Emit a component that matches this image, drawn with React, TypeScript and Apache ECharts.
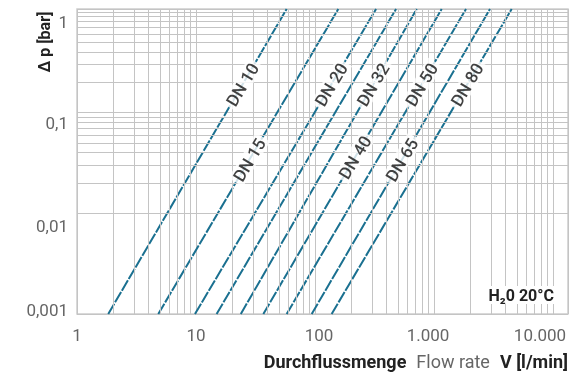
import React, { useEffect, useRef } from "react";
import * as echarts from "echarts";

// DN lines: flow [l/min] where each line meets the bottom (Δp = 0.001) and top (Δp = 1.07) of the plot
const lineNames = ["DN 10", "DN 15", "DN 20", "DN 25", "DN 32", "DN 40", "DN 50", "DN 65", "DN 80"];
const flowAtMin = [1.83, 4.82, 9.8, 14.9, 23.8, 36.8, 57.8, 93.8, 138];
const flowAtMax = [57.8, 157, 326, 480, 716, 1161, 1858, 2955, 4498];
const dpRange = [0.001, 1.07];
// Δp where each line's label sits (null = no label)
const labelDp: (number | null)[] = [0.19, 0.034, 0.19, null, 0.19, 0.036, 0.19, 0.034, 0.19];

const xTickValues = [1, 10, 100, 1000, 10000];
const xTickLabels = ["1", "10", "100", "1.000", "10.000"];
const xTickStyle = ["a", "a", "r", "l", "ll"];
const yTickValues = [0.001, 0.01, 0.1, 1];
const yTickLabels = ["0,001", "0,01", "0,1", "1"];
const yTickStyle = ["u", "dd", "d", "d"];

const minorMult = [2, 3, 4, 5, 6, 7, 8, 9];
const xMinorDecades = [1, 10, 100, 1000];
const yMinorDecades = [0.001, 0.01, 0.1];

const FONT = "Roboto, 'Noto Sans', sans-serif";

function findIdx(values: number[], v: number) {
  for (let i = 0; i < values.length; i++) {
    if (Math.abs(Math.log10(v) - Math.log10(values[i])) < 1e-6) return i;
  }
  return -1;
}

export default function App() {
  const ref = useRef<HTMLDivElement>(null);
  useEffect(() => {
    if (!ref.current) return;
    const chart = echarts.init(ref.current, null, { renderer: "svg" });

    const minorLines: any[] = [];
    xMinorDecades.forEach((d) => minorMult.forEach((m) => minorLines.push({ xAxis: d * m })));
    yMinorDecades.forEach((d) => minorMult.forEach((m) => minorLines.push({ yAxis: d * m })));

    const lineSeries = lineNames.map((name, i) => ({
      type: "line",
      name,
      z: 3,
      symbol: "none",
      silent: true,
      data: [
        [flowAtMin[i], dpRange[0]],
        [flowAtMax[i], dpRange[1]],
      ],
      lineStyle: { color: "#1a7090", width: 2, type: [12, 1.5] },
    }));

    const labelSeries: any[] = [];
    lineNames.forEach((name, i) => {
      const dp = labelDp[i];
      if (dp == null) return;
      const l0 = Math.log10(dpRange[0]);
      const l1 = Math.log10(dpRange[1]);
      const t = (Math.log10(dp) - l0) / (l1 - l0);
      const q0 = Math.log10(flowAtMin[i]);
      const q1 = Math.log10(flowAtMax[i]);
      const q = Math.pow(10, q0 + t * (q1 - q0));
      labelSeries.push({
        type: "scatter",
        z: 5,
        silent: true,
        symbolSize: 0.1,
        itemStyle: { color: "rgba(0,0,0,0)" },
        data: [[q, dp]],
        label: {
          show: true,
          position: "inside",
          rotate: 59,
          formatter: name,
          backgroundColor: "#ffffff",
          padding: [0, 3],
          fontSize: 17,
          fontWeight: 500,
          fontFamily: FONT,
          color: "#111",
        },
      });
    });

    chart.setOption({
      animation: false,
      grid: {
        left: 77,
        right: 5,
        top: 9,
        bottom: 67,
        show: true,
        borderColor: "#cdcdcd",
        borderWidth: 1.5,
        outerBoundsMode: "none",
      },
      xAxis: {
        type: "log",
        min: 1,
        max: 13370,
        logBase: 10,
        axisLine: { show: false },
        axisTick: { show: false },
        splitLine: { show: true, lineStyle: { color: "#c4c4c4", width: 1 } },
        axisLabel: {
          margin: 12,
          fontSize: 17,
          fontFamily: FONT,
          color: "#666",
          showMaxLabel: false,
          formatter: (v: number) => {
            const i = findIdx(xTickValues, v);
            return i < 0 ? "" : `{${xTickStyle[i]}|${xTickLabels[i]}}`;
          },
          rich: {
            a: { fontSize: 17, fontFamily: FONT, color: "#666" },
            r: { fontSize: 17, fontFamily: FONT, color: "#666", padding: [0, 0, 0, 8] },
            l: { fontSize: 17, fontFamily: FONT, color: "#666", padding: [0, 12, 0, 0] },
            ll: { fontSize: 17, fontFamily: FONT, color: "#666", padding: [0, 26, 0, 0] },
          },
        },
      },
      yAxis: {
        type: "log",
        min: 0.001,
        max: 1.07,
        logBase: 10,
        axisLine: { show: false },
        axisTick: { show: false },
        splitLine: { show: true, lineStyle: { color: "#c4c4c4", width: 1 } },
        axisLabel: {
          margin: 9,
          fontSize: 17,
          fontFamily: FONT,
          color: "#666",
          showMaxLabel: false,
          formatter: (v: number) => {
            const i = findIdx(yTickValues, v);
            return i < 0 ? "" : `{${yTickStyle[i]}|${yTickLabels[i]}}`;
          },
          rich: {
            d: { fontSize: 17, fontFamily: FONT, color: "#666", padding: [20, 0, 0, 0] },
            dd: { fontSize: 17, fontFamily: FONT, color: "#666", padding: [26, 0, 0, 0] },
            u: { fontSize: 17, fontFamily: FONT, color: "#666", padding: [0, 0, 8, 0] },
          },
        },
      },
      series: [
        {
          type: "line",
          z: 1,
          silent: true,
          symbol: "none",
          data: [],
          markLine: {
            silent: true,
            symbol: ["none", "none"],
            label: { show: false },
            lineStyle: { color: "#c4c4c4", width: 1, type: "solid" },
            emphasis: { disabled: true },
            data: minorLines,
          },
        },
        ...lineSeries,
        ...labelSeries,
      ],
      graphic: [
        {
          type: "text",
          x: 44,
          y: 42,
          rotation: Math.PI / 2,
          style: {
            text: "Δ p [bar]",
            align: "center",
            verticalAlign: "middle",
            font: `bold 16px ${FONT}`,
            fill: "#222",
          },
        },
        {
          type: "text",
          right: 5,
          top: 352,
          style: {
            text: "{b|Durchflussmenge}{g|}{n|Flow rate}{g|}{b|V [l/min]}",
            rich: {
              b: { fontSize: 18, fontWeight: "bold", fontFamily: FONT, fill: "#222" },
              n: { fontSize: 18, fontFamily: FONT, fill: "#666" },
              g: { width: 10 },
            },
          },
        },
        {
          type: "text",
          right: 17,
          top: 286,
          z: 10,
          style: {
            text: "H₂0 20°C",
            font: `bold 16px ${FONT}`,
            fill: "#222",
            backgroundColor: "#fff",
            padding: [1, 2],
          },
        },
      ],
    });
    return () => chart.dispose();
  }, []);
  return <div ref={ref} style={{ position: "fixed", left: 0, top: 0, width: 573, height: 381 }} />;
}
